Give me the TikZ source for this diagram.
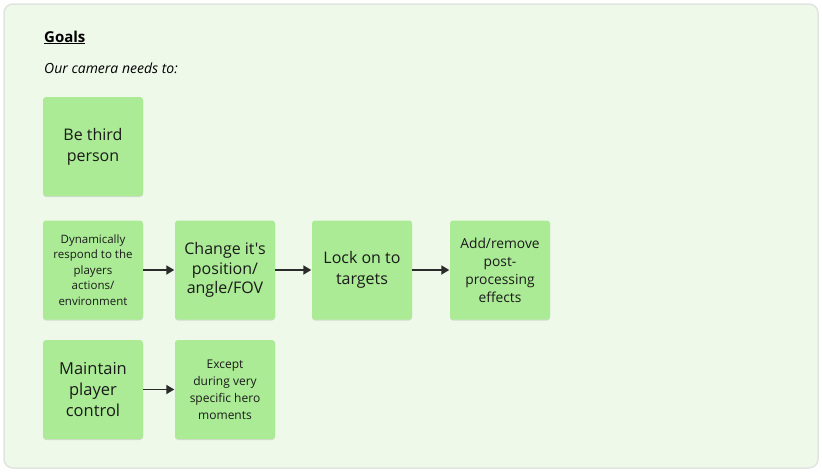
\documentclass[tikz,border=0pt]{standalone}
\usepackage{fontspec}
\setmainfont{Open Sans}[Ligatures=TeXOff]
\usetikzlibrary{arrows.meta,shadows}
\definecolor{bgc}{HTML}{EFF9EA}
\definecolor{bdc}{HTML}{E2E4E2}
\definecolor{boxc}{HTML}{ABEB95}
\definecolor{txtc}{HTML}{1A1A1A}
\definecolor{arrc}{HTML}{2B2B2B}
\tikzset{
  x=1pt,y=-1pt,
  card/.style={fill=boxc,rounded corners=3pt,minimum width=100pt,minimum height=99pt,
    inner sep=2pt,align=center,text=txtc,
    drop shadow={shadow xshift=0pt,shadow yshift=-1pt,opacity=0.12,fill=black}},
  big/.style={font=\fontsize{16}{21}\selectfont},
  small/.style={font=\fontsize{11.5}{15.5}\selectfont},
  flow/.style={draw=arrc,line width=1.8pt,-{Triangle[length=8pt,width=9pt]},shorten >=0.5pt}
}
\begin{document}
\begin{tikzpicture}
\useasboundingbox (0,0) rectangle (822,472);
\draw[draw=bdc,line width=1.5pt,fill=bgc,rounded corners=9pt] (4,4) rectangle (818,468);
\node[anchor=base west,inner sep=0pt,font=\fontsize{15}{16}\selectfont\bfseries] (title) at (44,42) {\underline{Goals}};
\node[anchor=base west,inner sep=0pt,font=\fontsize{14}{14}\selectfont\itshape] (sub) at (44,73) {Our camera needs to:};
\node[card,big] (b1) at (93,146.5) {Be third\\person};
\node[card,small] (d1) at (93,270) {Dynamically\\respond to the\\players\\actions/\\environment};
\node[card,font=\fontsize{16}{19.5}\selectfont] (d2) at (225,270) {Change it's\\position/\\angle/FOV};
\node[card,big] (d3) at (362,270) {Lock on to\\targets};
\node[card,font=\fontsize{13.8}{18}\selectfont] (d4) at (500,270) {Add/remove\\post-\\processing\\effects};
\node[card,font=\fontsize{16.5}{21}\selectfont] (m1) at (93,389.5) {Maintain\\player\\control};
\node[card,font=\fontsize{12}{17}\selectfont] (m2) at (225,389.5) {Except\\during very\\specific hero\\moments};
\draw[flow] (d1) -- (d2);
\draw[flow] (d2) -- (d3);
\draw[flow] (d3) -- (d4);
\draw[flow] (m1) -- (m2);
\end{tikzpicture}
\end{document}
